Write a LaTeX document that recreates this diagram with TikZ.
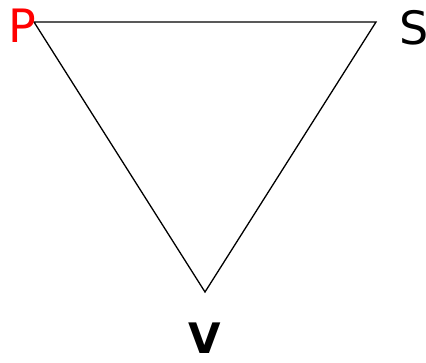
\documentclass[tikz,border=0pt]{standalone}
\usepackage{fontspec}
\setmainfont{DejaVu Sans}
\begin{document}
\begin{tikzpicture}[x=1pt, y=-1pt,
  lab/.style={font=\fontsize{46}{46}\selectfont, inner sep=0pt}]
\useasboundingbox (0,0) rectangle (426,363);
\coordinate (p) at (34,22);
\coordinate (s) at (376,22);
\coordinate (v) at (205,292);
\draw[line width=1.3pt, line join=miter] (p) -- (s) -- (v) -- cycle;
\node[lab, text=red] (pl) at (22,26) {P};
\node[lab] (sl) at (414,28) {S};
\node[lab, font=\fontsize{42}{42}\selectfont\bfseries] (vl) at (205,338) {V};
\end{tikzpicture}
\end{document}
